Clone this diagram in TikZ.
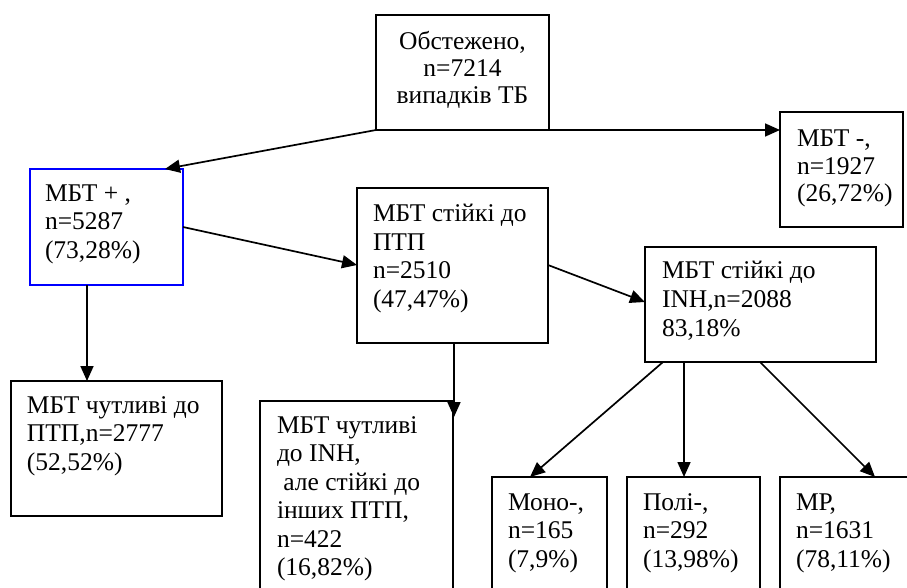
\documentclass[tikz,border=0pt]{standalone}
\usepackage{fontspec}
\setmainfont{Liberation Serif}
\usetikzlibrary{arrows.meta,calc}
\newcommand{\boxtxt}[2][28.5]{\parbox[t]{8cm}{\fontsize{25.5}{#1}\selectfont\raggedright #2}}
\begin{document}
\begin{tikzpicture}[x=1pt,y=-1pt,
  box/.style={draw=black, line width=1.5pt, anchor=north west, inner sep=0pt, outer sep=0pt},
  bluebox/.style={box, draw=blue},
  txt/.style={anchor=base west, inner sep=0pt, outer sep=0pt},
  arr/.style={line width=1.7pt, -{Triangle[length=15pt,width=13pt]}}]
\useasboundingbox (0,0) rectangle (907,588);
\clip (0,0) rectangle (907,588);
% boxes
\node[box, minimum width=173pt, minimum height=115pt] (top) at (376,15) {};
\node[box, minimum width=123pt, minimum height=115pt] (neg) at (780,112) {};
\node[bluebox, minimum width=153pt, minimum height=116pt] (pos) at (30,169) {};
\node[box, minimum width=191pt, minimum height=155pt] (res) at (357,188) {};
\node[box, minimum width=231pt, minimum height=115pt] (inh) at (645,247) {};
\node[box, minimum width=211pt, minimum height=135pt] (sens) at (11,381) {};
\node[box, minimum width=193pt, minimum height=200pt] (sinh) at (260,401) {};
\node[box, minimum width=115pt, minimum height=130pt] (mono) at (492,477) {};
\node[box, minimum width=133pt, minimum height=130pt] (poly) at (627,477) {};
\node[box, minimum width=150pt, minimum height=130pt] (mr) at (780,477) {};
% texts
\node[inner sep=0pt, anchor=base] (ttop) at (462.5,50) {\parbox[t]{173pt}{\centering\fontsize{25.5}{27}\selectfont Обстежено,\\ n=7214\\ випадків ТБ}};
\node[txt] (tneg) at (797,147) {\boxtxt[27.5]{МБТ -,\\ n=1927\\ (26,72\%)}};
\node[txt] (tpos) at (45,201) {\boxtxt{МБТ + ,\\ n=5287\\ (73,28\%)}};
\node[txt] (tres) at (373,222) {\boxtxt{МБТ стійкі до\\ ПТП\\ n=2510\\ (47,47\%)}};
\node[txt] (tinh) at (662,278) {\boxtxt[29]{МБТ стійкі до\\ INH,n=2088\\ 83,18\%}};
\node[txt] (tsens) at (27,413) {\boxtxt{МБТ чутливі до\\ ПТП,n=2777\\ (52,52\%)}};
\node[txt] (tsinh) at (277,433) {\boxtxt{МБТ чутливі\\ до INH,\\ \hspace*{0.25em}але стійкі до\\ інших ПТП,\\ n=422\\ (16,82\%)}};
\node[txt] (tmono) at (508,510) {\boxtxt{Моно-,\\ n=165\\ (7,9\%)}};
\node[txt] (tpoly) at (643,510) {\boxtxt{Полі-,\\ n=292\\ (13,98\%)}};
\node[txt] (tmr) at (796,510) {\boxtxt{МР,\\ n=1631\\ (78,11\%)}};
% connectors
\coordinate (sinhin) at ($(sinh.north east)+(1,16)$);
\draw[arr] (top.south west) -- ($(pos.north west)+(135,0)$);
\draw[arr] (top.south east) -- (top.south east -| neg.west);
\draw[arr] ($(pos.north east)+(0,58)$) -- ($(res.north west)+(0,77)$);
\draw[arr] ($(res.north east)+(0,77)$) -- ($(inh.north west)+(0,55)$);
\draw[arr] ($(pos.south west)+(57,0)$) -- ($(sens.north west)+(76,0)$);
\draw[arr] ($(res.south west)+(97,0)$) -- (sinhin);
\draw[arr] ($(inh.south west)+(18,0)$) -- ($(mono.north west)+(38,0)$);
\draw[arr] ($(inh.south west)+(39,0)$) -- ($(poly.north west)+(57,0)$);
\draw[arr] ($(inh.south west)+(115,0)$) -- ($(mr.north west)+(95,0)$);
\end{tikzpicture}
\end{document}
